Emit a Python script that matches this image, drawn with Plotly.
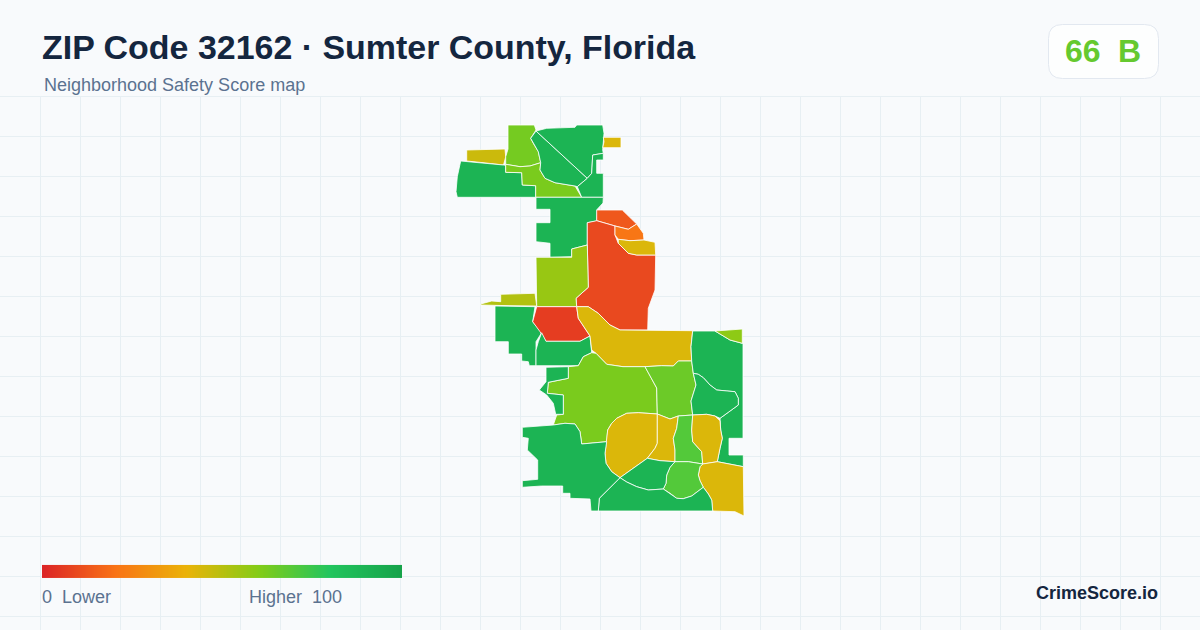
import plotly.graph_objects as go
from plotly.colors import sample_colorscale

# Neighborhood scores (0-100) and their outlines in map units
region_scores = [46, 90, 63, 62, 90, 90, 90, 43, 90, 13, 9, 21, 43, 56, 51, 90, 6, 90, 43,
                 62, 90, 65, 90, 58, 90, 43, 43, 70, 43, 43, 70, 90, 90, 90]
region_outlines = [
    [(466.7,150),(505,149),(505.7,157),(503.5,165),(483,162.7),(466.7,161)],
    [(460.7,161),(483,162.7),(503.5,165),(505.7,165.3),(505.7,172.3),(521.7,172.7),(522.3,185),(535.7,185.7),(535.7,197.3),(457.3,197.3),(456,191.7),(457.3,176.7)],
    [(508,125),(534.3,125),(536,130),(530.7,138.3),(533.3,143.3),(538.3,151.7),(540.7,162.7),(530,166),(520,166.7),(505.7,164.3),(505.7,156.7),(508,149)],
    [(505.7,164.3),(520,166.7),(530,166),(540.7,162.7),(540,170),(545,178.3),(555,182.7),(575,186),(581.7,197.3),(535.7,197.3),(535.7,185.7),(522.3,185),(521.7,172.7),(505.7,172.3)],
    [(536,131),(587.3,178.3),(577.3,186.7),(575,186),(555,182.7),(545,178.3),(540,170),(540.7,162.7),(538.3,151.7),(533.3,143.3),(530.7,138.3)],
    [(536,131),(546.7,128.3),(575,127.3),(576.7,125),(602.7,125),(604,133.3),(602.7,150),(603.3,153.3),(592.7,155),(591.7,173.3),(587.3,178.3)],
    [(592.7,155),(603.3,153.3),(603.3,160),(596.7,160),(596.7,173.3),(603.3,173.3),(603.3,197.3),(581.7,197.3),(577.3,186.7),(587.3,178.3),(591.7,173.3)],
    [(603.3,137.3),(621,137.3),(621,147.7),(602.7,147.7),(604,141.7)],
    [(536,197.3),(603.3,197.3),(603,203),(597,209.5),(596.7,221),(587.3,222.7),(587.3,245),(571.7,249),(571.7,256.7),(550,257.3),(550,243.3),(536,241.7),(536,222.7),(550,222.7),(550,209.3),(536,209.3)],
    [(596.7,210),(622.3,210),(636.7,224),(628.3,229.3),(615,226),(596.7,220.7)],
    [(587.3,222.7),(596.7,220.7),(615,226),(615,235),(618.3,243.3),(628.3,253.3),(636.7,255),(655.7,255),(655,290),(648.3,308.3),(647.7,330),(620,330),(610,325),(598.3,313.3),(588.3,306.7),(576.7,306.7),(576,298.3),(588.3,287.3),(587.3,245)],
    [(615,226),(628.3,229.3),(636.7,224),(643.3,233.3),(644,240),(630,240.7),(618.3,239.3),(615,235)],
    [(618.3,239.3),(630,240.7),(644,240),(655,242.3),(655.7,255),(636.7,255),(628.3,253.3),(618.3,243.3)],
    [(571.7,249),(587.3,245),(588.3,287.3),(576,298.3),(576.7,306.7),(536.7,306.7),(536,257.3),(571.7,257.3)],
    [(480.7,304),(491.7,301),(500.7,301.7),(500.7,294.3),(535,293.3),(536.7,306),(510,305.7),(480.7,305)],
    [(495,306),(535,306.7),(532.7,321.7),(541.7,332.7),(536,341.7),(536,365.7),(529.3,365.7),(528.3,361.7),(521.7,361),(521.7,354),(508.3,354),(508.3,341.7),(495,341.7)],
    [(536.7,306.7),(576.7,306.7),(578.3,318.3),(590,336),(580,341.3),(546,341.3),(540,331.7),(532.7,321.7)],
    [(546,341.3),(580,341.3),(590,336),(591.7,350),(591.7,352.7),(583.3,356.7),(578.3,365.7),(536,365.7),(536,350),(538.3,341.7),(541.7,332.7)],
    [(576.7,306.7),(588.3,306.7),(598.3,313.3),(610,325),(620,330),(692.7,330.7),(691,346.7),(691.7,361),(678.3,361),(673.3,366),(661.7,365.7),(645,366.7),(623,366.7),(606.7,364.3),(596,353.3),(591.7,350),(590,336),(578.3,318.3)],
    [(596,353.3),(606.7,364.3),(623,366.7),(645,366.7),(656.7,388),(657.3,414),(638.3,412.7),(626.7,413.3),(616.7,418.3),(611.7,423.3),(607.7,430),(606.7,441.7),(581.7,444),(580,431.7),(575,424),(565,423.3),(553.3,425),(556.7,415),(563.3,414.3),(563.3,395),(547.3,393.3),(548.3,382.3),(568.3,378.3),(568.3,366.7),(578.3,365.7),(583.3,356.7),(591.7,352.7)],
    [(546,367.3),(568.3,366.7),(568.3,378.3),(548.3,382.3),(547.3,393.3),(563.3,395),(563.3,414.3),(555.7,414.3),(553.3,403.3),(546.7,395),(539.3,390),(546,381.7)],
    [(645,366.7),(661.7,365.7),(673.3,366),(678.3,361),(691.7,361),(693.3,373.3),(696,385),(691,401),(692.7,415),(678.3,416),(670,419),(657.3,414),(656.7,388)],
    [(692.7,331),(715,331),(730,340),(743,343.5),(743,438.3),(729,438.3),(729,455),(743.3,455),(743.3,466.7),(717.3,461.7),(720,448.3),(722.3,438.3),(720.7,430),(720,420.7),(720,418.3),(728.3,412.3),(738.3,405),(738.3,398.3),(735,391.7),(726.7,391),(716.7,390),(710,385),(703.3,377.7),(698.3,374.3),(693.3,373.3),(691.7,361),(691,346.7)],
    [(715,331),(742.3,329),(742.3,343.3),(730,340)],
    [(693.3,373.3),(698.3,374.3),(703.3,377.7),(710,385),(716.7,390),(726.7,391),(735,391.7),(738.3,398.3),(738.3,405),(728.3,412.3),(720,418.3),(715,416),(706.7,414.3),(692.7,415),(691,401),(696,385)],
    [(607.7,430),(611.7,423.3),(616.7,418.3),(626.7,413.3),(638.3,412.7),(657.3,414),(657.3,443.3),(655,448.3),(647.3,458.3),(633.3,468.3),(620,477.7),(611.7,471.7),(606,463.3),(605,453.3),(606.7,441.7)],
    [(657.3,414),(670,419),(678.3,416),(676.7,428.3),(673.3,438.3),(675,450),(675,461.7),(660,460.7),(647.3,458.3),(655,448.3),(657.3,443.3)],
    [(678.3,416),(692.7,415),(691.7,430),(692.7,441.7),(701.7,451.7),(702.7,464),(688.3,461.7),(675,461.7),(675,450),(673.3,438.3),(676.7,428.3)],
    [(692.7,415),(706.7,414.3),(715,416),(720,420.7),(720.7,430),(722.3,438.3),(720,448.3),(717.3,461.7),(702.7,464),(701.7,451.7),(692.7,441.7),(691.7,430)],
    [(717.3,461.7),(743.3,466.7),(744,516),(735,511.7),(712.7,511),(711.7,500),(708.3,494),(703.3,487.3),(700,480.7),(698.3,475),(700,466.7),(702.7,464)],
    [(675,461.7),(688.3,461.7),(702.7,464),(700,466.7),(698.3,475),(700,480.7),(703.3,487.3),(691.7,496),(683.3,498.7),(676.7,498.3),(670,493.3),(663.3,489),(666,483.3),(666.7,475),(670,467.3)],
    [(647.3,458.3),(660,460.7),(675,461.7),(670,467.3),(666.7,475),(666,483.3),(663.3,489),(648.3,490),(636.7,486.7),(626.7,482),(620,477.7),(633.3,468.3)],
    [(620,477.7),(626.7,482),(636.7,486.7),(648.3,490),(663.3,489),(670,493.3),(676.7,498.3),(683.3,498.7),(691.7,496),(703.3,487.3),(708.3,494),(711.7,500),(712.7,511),(598.3,511),(599.3,498.3)],
    [(522.3,427.3),(553.3,425),(565,423.3),(575,424),(580,431.7),(581.7,444),(606.7,441.7),(605,453.3),(606,463.3),(611.7,471.7),(620,477.7),(599.3,498.3),(598.3,511),(591,511),(590,499),(570,498.3),(570,493.3),(562.7,493.3),(562.7,486),(541.7,486),(522.3,487.3),(522.3,480.7),(537.7,479.3),(537.7,460),(527.3,450),(528.3,438.3),(522.3,437.3)],
]
scale_stops = [0, 20, 40, 60, 80, 100]
scale_colors = ["#dc2626", "#f97316", "#eab308", "#84cc16", "#22c55e", "#16a34a"]
legend_scores = list(range(0, 101))

title_text = "ZIP Code 32162 · Sumter County, Florida"
subtitle_text = "Neighborhood Safety Score map"
overall_score = "66"
overall_grade = "B"
legend_low = "0\u00a0\u00a0Lower"
legend_high = "Higher\u00a0\u00a0100"
brand_text = "CrimeScore.io"

BG = "#f8fafc"
GRID = "#e7eff3"
SANS = "Liberation Sans, Arial, sans-serif"
colorscale = [[s / 100, c] for s, c in zip(scale_stops, scale_colors)]

fig = go.Figure()
for score, outline in zip(region_scores, region_outlines):
    closed = outline + [outline[0]]
    fig.add_trace(go.Scatter(
        x=[p[0] for p in closed], y=[p[1] for p in closed],
        mode="lines", fill="toself",
        fillcolor=sample_colorscale(colorscale, score / 100)[0],
        line=dict(color="#ffffff", width=0.8),
        hoverinfo="skip", showlegend=False,
    ))

fig.add_trace(go.Heatmap(
    z=[legend_scores], x0=42 + 180 / 101, dx=360 / 101, y0=571.3, dy=12.7,
    zmin=0, zmax=100, colorscale=colorscale, showscale=False,
    zsmooth="best", hoverinfo="skip",
))

fig.add_shape(type="rect", xref="x", yref="y", x0=0, x1=1200, y0=0, y1=96,
              fillcolor=BG, line_width=0, layer="between")
fig.add_shape(type="path", xref="x", yref="y", layer="above",
              path="M 1062.5 24.5 H 1144.5 Q 1158.5 24.5 1158.5 38.5 V 64.5 Q 1158.5 78.5 1144.5 78.5 "
                   "H 1062.5 Q 1048.5 78.5 1048.5 64.5 V 38.5 Q 1048.5 24.5 1062.5 24.5 Z",
              fillcolor="#fdfefe", line=dict(color="#e2e8f0", width=1))

def label(text, x, y, size, color, anchor="left", bold=False):
    fig.add_annotation(x=x, y=y, xref="x", yref="y", text=f"<b>{text}</b>" if bold else text,
                       showarrow=False, xanchor=anchor, yanchor="middle",
                       font=dict(family=SANS, size=size, color=color),
                       borderpad=0, borderwidth=0)

label(title_text, 42, 47, 33.95, "#14263f", bold=True)
label(subtitle_text, 44, 85, 18, "#5b7290")
label(overall_score, 1065, 51, 32, "#65c92f", bold=True)
label(overall_grade, 1118, 51, 32, "#65c92f", bold=True)
label(legend_low, 42, 597, 18, "#5b7290")
label(legend_high, 249, 597, 18, "#5b7290")
label(brand_text, 1158, 593, 18, "#14263f", anchor="right", bold=True)

fig.update_layout(
    width=1200, height=630, margin=dict(l=0, r=0, t=0, b=0, autoexpand=False),
    paper_bgcolor=BG, plot_bgcolor=BG, showlegend=False,
    xaxis=dict(range=[0, 1200], tick0=0.5, dtick=40, showgrid=True, gridcolor=GRID, gridwidth=1,
               zeroline=False, showticklabels=False, ticks="", showline=False, fixedrange=True),
    yaxis=dict(range=[630, 0], tick0=16.5, dtick=40, showgrid=True, gridcolor=GRID, gridwidth=1,
               zeroline=False, showticklabels=False, ticks="", showline=False, fixedrange=True),
)
fig.write_html("out.html", post_script="document.body.style.margin='0';document.documentElement.style.overflow='hidden';",
               config={"displayModeBar": False})
